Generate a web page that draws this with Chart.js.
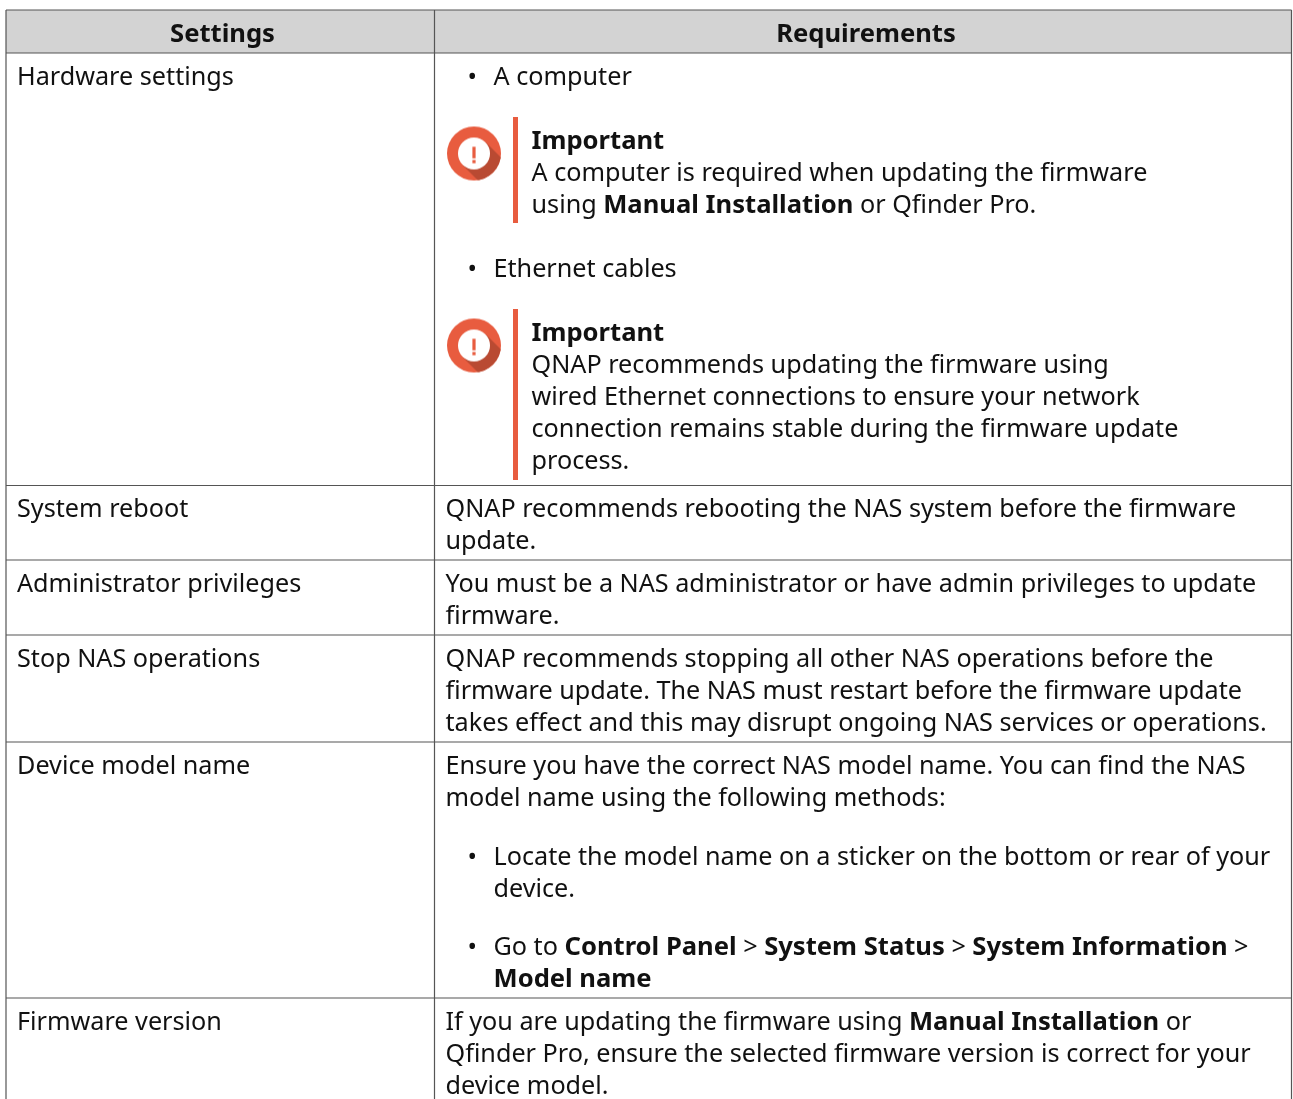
<!DOCTYPE html>
<html>
<head>
<meta charset="utf-8">
<title>Settings and requirements</title>
<script src="https://cdn.jsdelivr.net/npm/chart.js@4/dist/chart.umd.min.js"></script>
<style>
  html, body { margin: 0; padding: 0; background: #fff; overflow: hidden; }
  canvas { display: block; }
</style>
</head>
<body>
<canvas id="chartTable" width="1293" height="1099"></canvas>
<script>
// ================== TABLE CONTENT ================ //
const HEADERS = ["Settings", "Requirements"];

const SETTINGS = [
  "Hardware settings",
  "System reboot",
  "Administrator privileges",
  "Stop NAS operations",
  "Device model name",
  "Firmware version",
];

// each line is a list of runs, a "*" in front means bold
const REQUIREMENTS = [
  ["A computer"],
  ["*Important"],
  ["A computer is required when updating the firmware"],
  ["using ", "*Manual Installation", " or Qfinder Pro."],
  ["Ethernet cables"],
  ["*Important"],
  ["QNAP recommends updating the firmware using"],
  ["wired Ethernet connections to ensure your network"],
  ["connection remains stable during the firmware update"],
  ["process."],
  ["QNAP recommends rebooting the NAS system before the firmware"],
  ["update."],
  ["You must be a NAS administrator or have admin privileges to update"],
  ["firmware."],
  ["QNAP recommends stopping all other NAS operations before the"],
  ["firmware update. The NAS must restart before the firmware update"],
  ["takes effect and this may disrupt ongoing NAS services or operations."],
  ["Ensure you have the correct NAS model name. You can find the NAS"],
  ["model name using the following methods:"],
  ["Locate the model name on a sticker on the bottom or rear of your"],
  ["device."],
  ["Go to ", "*Control Panel", " > ", "*System Status", " > ", "*System Information", " >"],
  ["*Model name"],
  ["If you are updating the firmware using ", "*Manual Installation", " or"],
  ["Qfinder Pro, ensure the selected firmware version is correct for your"],
  ["device model."],
];

// ================== LAYOUT (page pixels) ================ //
const COLUMN_EDGES = [6, 434.5, 1291.5];
const ROW_EDGES = [10, 53, 485.5, 560, 635, 742, 998];
const HEADER_X = [222.5, 866];
const SETTINGS_Y = [85, 517, 592, 667, 774, 1030];
const REQUIREMENTS_X = [493.5, 531.5, 531.5, 531.5, 493.5, 531.5, 531.5, 531.5, 531.5, 531.5, 445.5, 445.5, 445.5, 445.5, 445.5, 445.5, 445.5, 445.5, 445.5, 493.5, 493.5, 493.5, 493.5, 445.5, 445.5, 445.5];
const REQUIREMENTS_Y = [85, 149, 181, 213, 277, 341, 373, 405, 437, 469, 517, 549, 592, 624, 667, 699, 731, 774, 806, 865, 897, 955, 987, 1030, 1062, 1094];
const BULLET_Y = [85, 277, 865, 955];
const ICON_Y = [153.5, 345.5];
const NOTE_BARS = [[117, 223], [309, 480]];

const FONT_SIZE = 25.2;
const BOLD_FONT_SIZE = 25.6;
const TEXT_COLOR = "#111";
const RULE_COLOR = "#555";
const ORANGE = "#e85c3f";

function makeIcon() {
  const size = 56, c = size / 2, r = 27;
  const icon = document.createElement("canvas");
  icon.width = size;
  icon.height = size;
  const ctx = icon.getContext("2d");

  ctx.fillStyle = ORANGE;
  ctx.beginPath();
  ctx.arc(c, c, r, 0, Math.PI * 2);
  ctx.fill();

  // long shadow going to the lower right
  ctx.save();
  ctx.beginPath();
  ctx.arc(c, c, r, 0, Math.PI * 2);
  ctx.clip();
  ctx.fillStyle = "#b94a32";
  ctx.beginPath();
  ctx.moveTo(c + 11.5, c - 11.5);
  ctx.lineTo(c + 40, c + 17);
  ctx.lineTo(c + 17, c + 40);
  ctx.lineTo(c - 11.5, c + 11.5);
  ctx.closePath();
  ctx.fill();
  ctx.restore();

  ctx.fillStyle = "#fff";
  ctx.beginPath();
  ctx.arc(c, c, 16, 0, Math.PI * 2);
  ctx.fill();

  ctx.fillStyle = ORANGE;
  ctx.fillRect(c - 1.6, c - 6.7, 3.2, 11.5);
  ctx.fillRect(c - 1.6, c + 6.5, 3.2, 3.2);
  return icon;
}

function drawRuns(ctx, runs, x, y) {
  let left = x;
  runs.forEach((run) => {
    const bold = run.startsWith("*");
    const text = bold ? run.slice(1) : run;
    ctx.font = bold ? `bold ${BOLD_FONT_SIZE}px "Noto Sans"` : `${FONT_SIZE}px "Noto Sans"`;
    ctx.fillText(text, left, y);
    left += ctx.measureText(text).width;
  });
}

// text goes through the same scales as the rules
const tableText = {
  id: "tableText",
  afterDatasetsDraw(chart) {
    const { ctx, scales } = chart;
    const px = (v) => scales.x.getPixelForValue(v);
    const py = (v) => scales.y.getPixelForValue(v);

    ctx.save();
    ctx.fillStyle = TEXT_COLOR;
    ctx.textBaseline = "alphabetic";

    ctx.textAlign = "center";
    ctx.font = `bold ${BOLD_FONT_SIZE}px "Noto Sans"`;
    HEADERS.forEach((h, i) => ctx.fillText(h, px(HEADER_X[i]), py(42)));

    ctx.textAlign = "left";
    SETTINGS.forEach((s, i) => drawRuns(ctx, [s], px(17), py(SETTINGS_Y[i])));
    REQUIREMENTS.forEach((runs, i) => {
      drawRuns(ctx, runs, px(REQUIREMENTS_X[i]), py(REQUIREMENTS_Y[i]));
    });
    BULLET_Y.forEach((y) => drawRuns(ctx, ["•"], px(467.5), py(y)));
    ctx.restore();
  },
};

function gridPoints() {
  const top = ROW_EDGES[0], bottom = 1099;
  const left = COLUMN_EDGES[0], right = COLUMN_EDGES[2];
  const points = [];
  ROW_EDGES.forEach((y) => points.push({ x: left, y }, { x: right, y }, { x: NaN, y: NaN }));
  COLUMN_EDGES.forEach((x) => points.push({ x, y: top }, { x, y: bottom }, { x: NaN, y: NaN }));
  return points;
}

function barPoints() {
  const points = [];
  NOTE_BARS.forEach(([a, b]) => points.push({ x: 515.5, y: a }, { x: 515.5, y: b }, { x: NaN, y: NaN }));
  return points;
}

new Chart(document.getElementById("chartTable"), {
  type: "scatter",
  data: {
    datasets: [
      {
        // header band
        data: [
          { x: COLUMN_EDGES[0], y: ROW_EDGES[0] },
          { x: COLUMN_EDGES[2], y: ROW_EDGES[0] },
        ],
        showLine: true,
        borderWidth: 0,
        pointRadius: 0,
        backgroundColor: "#d3d3d3",
        fill: { target: { value: ROW_EDGES[1] } },
        order: 3,
      },
      {
        data: gridPoints(),
        showLine: true,
        spanGaps: false,
        borderColor: RULE_COLOR,
        borderWidth: 1.2,
        pointRadius: 0,
        order: 2,
      },
      {
        data: barPoints(),
        showLine: true,
        spanGaps: false,
        borderColor: ORANGE,
        borderWidth: 5,
        borderCapStyle: "butt",
        pointRadius: 0,
        order: 1,
      },
      {
        data: ICON_Y.map((y) => ({ x: 474, y })),
        pointStyle: makeIcon(),
        order: 0,
      },
    ],
  },
  options: {
    responsive: false,
    animation: false,
    events: [],
    layout: { padding: 0, autoPadding: false },
    plugins: {
      legend: { display: false },
      tooltip: { enabled: false },
    },
    scales: {
      x: { type: "linear", display: false, min: 0, max: 1293 },
      y: { type: "linear", display: false, min: 0, max: 1099, reverse: true },
    },
  },
  plugins: [tableText],
});
</script>
</body>
</html>
